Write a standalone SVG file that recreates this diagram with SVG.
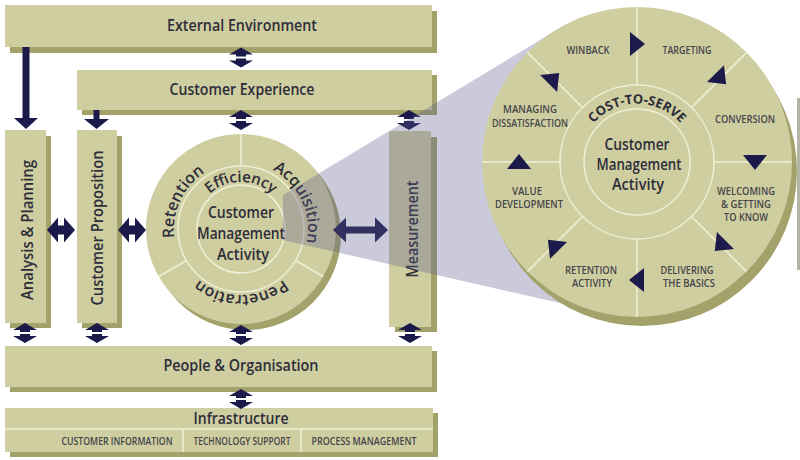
<svg xmlns="http://www.w3.org/2000/svg" xmlns:xlink="http://www.w3.org/1999/xlink" width="800" height="460" viewBox="0 0 800 460">
<defs>
<style>
.box{fill:#cfcea0}
.shd{fill:#a3a26b}
.t{font-family:"Open Sans","Liberation Sans",sans-serif;font-weight:600;fill:#2d2d3a;font-size:16px;text-anchor:middle}
.lbl{font-family:"Open Sans","Liberation Sans",sans-serif;font-weight:600;fill:#45454a;font-size:10px;text-anchor:middle}
.arr{fill:#1b1a4b}
.ring{fill:none;stroke:#f0eed6;stroke-width:1.5}
</style>
<g id="va" class="arr">
<polygon points="0,-10 12,-3 5,-3 5,-1 -5,-1 -5,-3 -12,-3"/>
<polygon points="0,10 12,3 5,3 5,1 -5,1 -5,3 -12,3"/>
</g>
<polygon id="ha" class="arr" points="-14,0 -3,-12.5 -3,-4.5 3,-4.5 3,-12.5 14,0 3,12.5 3,4.5 -3,4.5 -3,12.5"/>
<polygon id="tri" class="arr" points="-7,-12 8,0 -7,12"/>
<path id="pRet" d="M193.6,276.4 A67,67 0 0 1 246.8,162.3"/>
<path id="pAcq" d="M235.2,162.3 A67,67 0 0 1 288.4,276.4"/>
<path id="pEff" d="M196.8,212.9 A47,47 0 0 1 285.2,212.9"/>
<path id="pPen" d="M303,251.6 A66,66 0 0 1 179,251.6"/>
<path id="pCts" d="M582.5,141.8 A58,58 0 0 1 691.5,141.8"/>
</defs>
<rect width="800" height="460" fill="#ffffff"/>

<g id="external-environment">
<rect class="shd" x="10" y="11" width="427" height="42"/>
<rect class="box" x="5" y="5" width="427" height="42"/>
<text class="t" x="242" y="31" textLength="150" lengthAdjust="spacingAndGlyphs">External Environment</text>
</g>
<g id="customer-experience">
<rect class="shd" x="82" y="75" width="355" height="40"/>
<rect class="box" x="77" y="70" width="355" height="40"/>
<text class="t" x="242" y="95" textLength="145" lengthAdjust="spacingAndGlyphs">Customer Experience</text>
</g>
<g id="analysis-planning">
<rect class="shd" x="10" y="136" width="41" height="192"/>
<rect class="box" x="5" y="130" width="41" height="193"/>
<text class="t" transform="translate(33,230) rotate(-90)" textLength="140" lengthAdjust="spacingAndGlyphs">Analysis &amp; Planning</text>
</g>
<g id="customer-proposition">
<rect class="shd" x="82" y="136" width="40" height="192"/>
<rect class="box" x="77" y="130" width="40" height="193"/>
<text class="t" transform="translate(103,228) rotate(-90)" textLength="155" lengthAdjust="spacingAndGlyphs">Customer Proposition</text>
</g>
<g id="measurement">
<rect class="shd" x="395" y="137" width="42" height="195"/>
<rect class="box" x="389" y="131" width="42" height="196"/>
<text class="t" transform="translate(418,229) rotate(-90)" textLength="97" lengthAdjust="spacingAndGlyphs">Measurement</text>
</g>
<g id="people-organisation">
<rect class="shd" x="10" y="351" width="427" height="41"/>
<rect class="box" x="5" y="346" width="427" height="41"/>
<text class="t" x="241" y="371" textLength="155" lengthAdjust="spacingAndGlyphs">People &amp; Organisation</text>
</g>
<g id="infrastructure">
<rect class="shd" x="10" y="413" width="428" height="44"/>
<rect class="box" x="5" y="408" width="428" height="44"/>
<path class="ring" d="M5,429 H433 M183,429 V452 M301,429 V452"/>
<text class="t" x="241" y="424" textLength="95" lengthAdjust="spacingAndGlyphs">Infrastructure</text>
<text class="lbl" x="117" y="445" textLength="111" lengthAdjust="spacingAndGlyphs">CUSTOMER INFORMATION</text>
<text class="lbl" x="242" y="445" textLength="97" lengthAdjust="spacingAndGlyphs">TECHNOLOGY SUPPORT</text>
<text class="lbl" x="364" y="445" textLength="105" lengthAdjust="spacingAndGlyphs">PROCESS MANAGEMENT</text>
</g>

<g id="customer-management-activity">
<circle class="shd" cx="246" cy="235" r="95"/>
<circle class="box" cx="241" cy="229" r="95"/>
<circle class="ring" cx="241" cy="229" r="63"/>
<circle class="ring" cx="241" cy="229" r="44"/>
<path class="ring" d="M241,134 V166 M295.6,260.5 L323.3,276.5 M186.4,260.5 L158.7,276.5"/>
<text class="t" style="font-size:16px"><textPath xlink:href="#pRet" href="#pRet" startOffset="50%">Retention</textPath></text>
<text class="t" style="font-size:16px"><textPath xlink:href="#pAcq" href="#pAcq" startOffset="50%">Acquisition</textPath></text>
<text class="t" style="font-size:15px"><textPath xlink:href="#pEff" href="#pEff" startOffset="50%">Efficiency</textPath></text>
<text class="t" style="font-size:16px"><textPath xlink:href="#pPen" href="#pPen" startOffset="50%">Penetration</textPath></text>
<text class="t" x="241" y="218" textLength="66" lengthAdjust="spacingAndGlyphs">Customer</text>
<text class="t" x="241" y="239" textLength="88" lengthAdjust="spacingAndGlyphs">Management</text>
<text class="t" x="243" y="260" textLength="52" lengthAdjust="spacingAndGlyphs">Activity</text>
</g>

<g id="connectors">
<rect class="arr" x="22.5" y="47" width="7" height="72"/>
<polygon class="arr" points="14,118 38,118 26,129"/>
<rect class="arr" x="93.5" y="110" width="6" height="10"/>
<polygon class="arr" points="84,119 109,119 96.5,129"/>
<use href="#va" xlink:href="#va" x="241" y="57.5"/>
<use href="#va" xlink:href="#va" x="241" y="120"/>
<use href="#va" xlink:href="#va" x="409" y="120"/>
<use href="#va" xlink:href="#va" x="25" y="333"/>
<use href="#va" xlink:href="#va" x="97" y="333"/>
<use href="#va" xlink:href="#va" x="241" y="335"/>
<use href="#va" xlink:href="#va" x="410" y="333"/>
<use href="#va" xlink:href="#va" x="241" y="399"/>
<use href="#ha" xlink:href="#ha" x="61" y="230"/>
<use href="#ha" xlink:href="#ha" x="132" y="230"/>
<polygon class="arr" points="333,230 346,217.5 346,226.5 375,226.5 375,217.5 388,230 375,242.5 375,233.5 346,233.5 346,242.5"/>
</g>

<polygon id="zoom-projection" points="283,195 560,28 637,162 586,309 283,240" fill="#5f5f90" opacity="0.33"/>

<rect x="797" y="98" width="3" height="172" fill="#b5b5a5"/>

<g id="customer-management-detail">
<circle class="shd" cx="642" cy="171" r="155"/>
<circle class="box" cx="637" cy="162" r="155"/>
<circle class="ring" cx="637" cy="162" r="77"/>
<circle class="ring" cx="637" cy="162" r="53"/>
<path class="ring" d="M637,85 V7 M691.4,107.6 L746.6,52.4 M714,162 H792 M691.4,216.4 L746.6,271.6 M637,239 V317 M582.6,216.4 L527.4,271.6 M560,162 H482 M582.6,107.6 L527.4,52.4"/>
<use href="#tri" xlink:href="#tri" transform="translate(637,44)"/>
<use href="#tri" xlink:href="#tri" transform="rotate(45,637,162) translate(637,44)"/>
<use href="#tri" xlink:href="#tri" transform="rotate(90,637,162) translate(637,44)"/>
<use href="#tri" xlink:href="#tri" transform="rotate(135,637,162) translate(637,44)"/>
<use href="#tri" xlink:href="#tri" transform="rotate(180,637,162) translate(637,44)"/>
<use href="#tri" xlink:href="#tri" transform="rotate(225,637,162) translate(637,44)"/>
<use href="#tri" xlink:href="#tri" transform="rotate(270,637,162) translate(637,44)"/>
<use href="#tri" xlink:href="#tri" transform="rotate(315,637,162) translate(637,44)"/>
<text class="lbl" x="588" y="54" textLength="43" lengthAdjust="spacingAndGlyphs">WINBACK</text>
<text class="lbl" x="687" y="54" textLength="49" lengthAdjust="spacingAndGlyphs">TARGETING</text>
<text class="lbl" x="745" y="123" textLength="60" lengthAdjust="spacingAndGlyphs">CONVERSION</text>
<text class="lbl" x="746" y="195" textLength="58" lengthAdjust="spacingAndGlyphs">WELCOMING</text>
<text class="lbl" x="746" y="208" textLength="50" lengthAdjust="spacingAndGlyphs">&amp; GETTING</text>
<text class="lbl" x="746" y="221" textLength="44" lengthAdjust="spacingAndGlyphs">TO KNOW</text>
<text class="lbl" x="687" y="274" textLength="53" lengthAdjust="spacingAndGlyphs">DELIVERING</text>
<text class="lbl" x="689" y="287" textLength="52" lengthAdjust="spacingAndGlyphs">THE BASICS</text>
<text class="lbl" x="591" y="274" textLength="52" lengthAdjust="spacingAndGlyphs">RETENTION</text>
<text class="lbl" x="592" y="287" textLength="40" lengthAdjust="spacingAndGlyphs">ACTIVITY</text>
<text class="lbl" x="527" y="195" textLength="30" lengthAdjust="spacingAndGlyphs">VALUE</text>
<text class="lbl" x="529" y="208" textLength="68" lengthAdjust="spacingAndGlyphs">DEVELOPMENT</text>
<text class="lbl" x="530" y="113" textLength="54" lengthAdjust="spacingAndGlyphs">MANAGING</text>
<text class="lbl" x="530" y="127" textLength="76" lengthAdjust="spacingAndGlyphs">DISSATISFACTION</text>
<text class="t" style="font-size:13px;font-weight:700"><textPath xlink:href="#pCts" href="#pCts" startOffset="50%">COST-TO-SERVE</textPath></text>
<text class="t" x="637" y="150" textLength="65" lengthAdjust="spacingAndGlyphs">Customer</text>
<text class="t" x="639" y="170" textLength="85" lengthAdjust="spacingAndGlyphs">Management</text>
<text class="t" x="638" y="190" textLength="52" lengthAdjust="spacingAndGlyphs">Activity</text>
</g>
</svg>
